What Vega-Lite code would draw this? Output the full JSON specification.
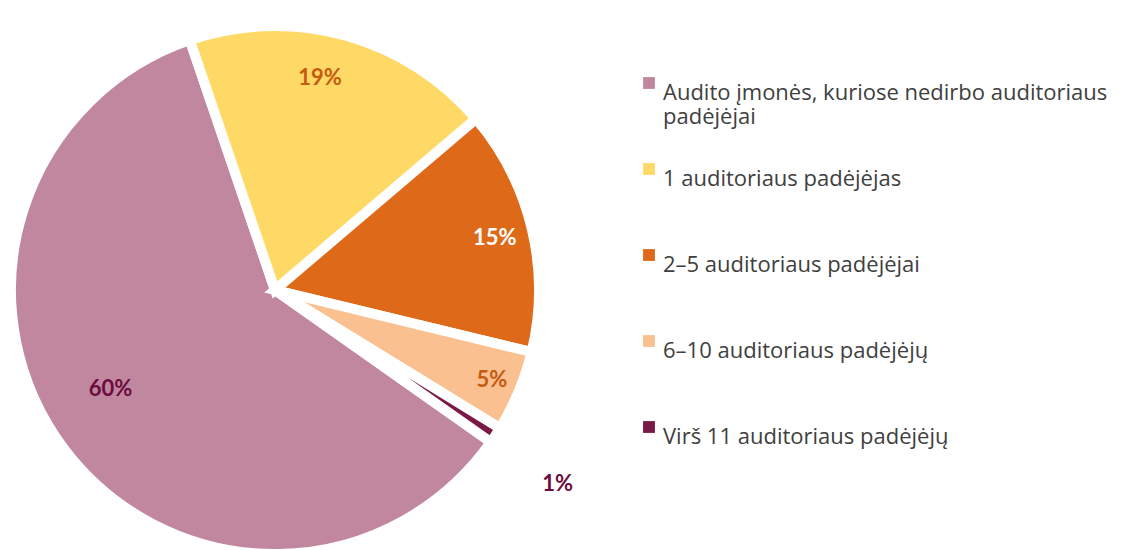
{
  "$schema": "https://vega.github.io/schema/vega-lite/v6.json",
  "width": 550,
  "height": 550,
  "autosize": {"type": "none"},
  "padding": {"left": 0, "top": 15, "right": 592, "bottom": 0},
  "background": "white",
  "config": {"view": {"stroke": null}, "font": "Lato"},
  "data": {
    "values": [
      {"category": "Audito įmonės, kuriose nedirbo auditoriaus padėjėjai", "value": 60, "label": "60%", "ord": 1},
      {"category": "1 auditoriaus padėjėjas", "value": 19, "label": "19%", "ord": 2},
      {"category": "2–5 auditoriaus padėjėjai", "value": 15, "label": "15%", "ord": 3},
      {"category": "6–10 auditoriaus padėjėjų", "value": 5, "label": "5%", "ord": 4},
      {"category": "Virš 11 auditoriaus padėjėjų", "value": 1, "label": "1%", "ord": 5}
    ]
  },
  "encoding": {
    "theta": {"field": "value", "type": "quantitative", "stack": true, "scale": {"range": [2.185, 8.468]}},
    "order": {"field": "ord", "type": "quantitative"}
  },
  "layer": [
    {
      "mark": {"type": "arc", "outerRadius": 264, "stroke": "white", "strokeWidth": 10},
      "encoding": {
        "color": {
          "field": "category",
          "type": "nominal",
          "sort": null,
          "scale": {
            "domain": [
              "Audito įmonės, kuriose nedirbo auditoriaus padėjėjai",
              "1 auditoriaus padėjėjas",
              "2–5 auditoriaus padėjėjai",
              "6–10 auditoriaus padėjėjų",
              "Virš 11 auditoriaus padėjėjų"
            ],
            "range": ["#C0879F", "#FFD966", "#DE6919", "#FAC090", "#7A1846"]
          },
          "legend": {
            "title": null,
            "orient": "none",
            "legendX": 638,
            "legendY": 57,
            "symbolType": "square",
            "symbolSize": 140,
            "symbolStrokeWidth": 0,
            "labelFont": "Open Sans",
            "labelFontSize": 22,
            "labelColor": "#404040",
            "labelLimit": 600,
            "labelOffset": 3,
            "labelBaseline": "top",
            "labelLineHeight": 32,
            "rowPadding": 30,
            "labelExpr": "indexof(datum.label, 'Audito') == 0 ? ['Audito įmonės, kuriose nedirbo auditoriaus', 'padėjėjai'] : [datum.label, '']"
          }
        }
      }
    },
    {
      "mark": {"type": "text", "radius": 192, "thetaOffset": 0.1, "fontSize": 22, "fontWeight": "bold", "font": "Lato"},
      "encoding": {
        "text": {"condition": {"test": "datum.ord == 1", "field": "label"}, "value": ""},
        "color": {"value": "#6B0D3D"}
      }
    },
    {
      "mark": {"type": "text", "radius": 217, "thetaOffset": -0.06, "fontSize": 22, "fontWeight": "bold", "font": "Lato"},
      "encoding": {
        "text": {"condition": {"test": "datum.ord == 2", "field": "label"}, "value": ""},
        "color": {"value": "#C55A11"}
      }
    },
    {
      "mark": {"type": "text", "radius": 226, "fontSize": 22, "fontWeight": "bold", "font": "Lato"},
      "encoding": {
        "text": {"condition": {"test": "datum.ord == 3", "field": "label"}, "value": ""},
        "color": {"value": "#FFFFFF"}
      }
    },
    {
      "mark": {"type": "text", "radius": 235, "fontSize": 22, "fontWeight": "bold", "font": "Lato"},
      "encoding": {
        "text": {"condition": {"test": "datum.ord == 4", "field": "label"}, "value": ""},
        "color": {"value": "#C55A11"}
      }
    },
    {
      "mark": {"type": "text", "radius": 343, "thetaOffset": 0.02, "fontSize": 22, "fontWeight": "bold", "font": "Lato"},
      "encoding": {
        "text": {"condition": {"test": "datum.ord == 5", "field": "label"}, "value": ""},
        "color": {"value": "#6B0D3D"}
      }
    }
  ]
}
